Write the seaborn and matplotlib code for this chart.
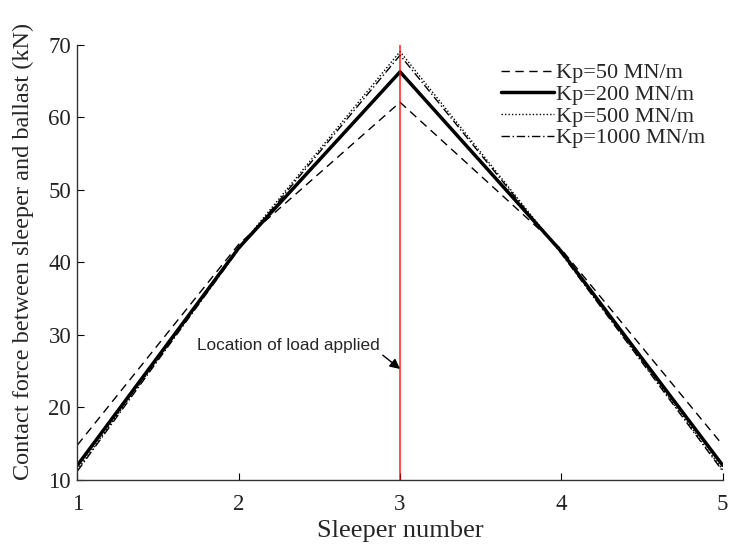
import matplotlib
matplotlib.use("Agg")
import matplotlib.pyplot as plt
import seaborn as sns
import pandas as pd
from matplotlib.lines import Line2D

sleepers = [1, 2, 3, 4, 5]
kp50 = [14.8, 42.5, 62.1, 41.8, 14.8]
kp200 = [12.0, 42.0, 66.3, 41.5, 12.0]
kp500 = [11.4, 42.0, 69.1, 41.3, 11.4]
kp1000 = [11.2, 41.8, 68.6, 41.2, 11.2]
labels = ["Kp=50 MN/m", "Kp=200 MN/m", "Kp=500 MN/m", "Kp=1000 MN/m"]
load_x = 3

rows = []
for lab, vals in zip(labels, [kp50, kp200, kp500, kp1000]):
    for s, v in zip(sleepers, vals):
        rows.append({"Sleeper number": s, "Force": v, "Case": lab})
df = pd.DataFrame(rows)

sns.set_style("white")
plt.rcParams["font.family"] = ["Liberation Serif", "DejaVu Serif"]

fig = plt.figure(figsize=(7.3, 5.49), dpi=100)
ax = fig.add_axes([0.106, 0.126, 0.884, 0.792])

dash_list = [(6, 4), "", (1, 1.5), (6, 2, 1, 2)]
dashes = {l: d for l, d in zip(labels, dash_list)}
palette = {l: "black" for l in labels}
sns.lineplot(data=df, x="Sleeper number", y="Force", hue="Case", style="Case",
             dashes=dashes, palette=palette, ax=ax, legend=False)
widths = [1.0, 2.5, 1.0, 1.0]
for line, w in zip(ax.lines, widths):
    line.set_linewidth(w)

ax.axvline(load_x, color="red", lw=1.2, alpha=0.8)

handles = []
for w, d in zip(widths, dash_list):
    h = Line2D([], [], color="black", lw=w, linestyle="-")
    if d != "":
        h.set_dashes(d)
    handles.append(h)
leg = ax.legend(handles, labels, loc="upper right", frameon=False, fontsize=16,
                handlelength=2.4, handletextpad=0.08, labelspacing=0.05,
                borderpad=0.3, bbox_to_anchor=(1.0, 1.0))

ax.annotate("Location of load applied", xy=(load_x, 25.3), xytext=(1.74, 28.6),
            fontsize=12.4, family="Liberation Sans", va="center", ha="left",
            arrowprops=dict(arrowstyle="-|>", color="black", lw=1, mutation_scale=15,
                            shrinkA=0, shrinkB=0, relpos=(1.0, 0.0)))

ax.set_xlim(1, 5)
ax.set_ylim(10, 70)
ax.set_xticks([1, 2, 3, 4, 5])
ax.set_yticks([10, 20, 30, 40, 50, 60, 70])
ax.tick_params(direction="in", length=5, labelsize=16.5, colors="black",
               left=True, bottom=True, labelcolor="#222222")
ax.tick_params(axis="x", pad=10)
ax.tick_params(axis="y", pad=4.5)
for sp in ["top", "right"]:
    ax.spines[sp].set_visible(False)
for sp in ["left", "bottom"]:
    ax.spines[sp].set_color("#333333")
    ax.spines[sp].set_linewidth(1.0)
ax.set_xlabel("Sleeper number", fontsize=19, labelpad=4)
ax.set_ylabel("Contact force between sleeper and ballast (kN)", fontsize=17.5)
ax.yaxis.set_label_coords(-0.067, 0.525)

fig.savefig("out.png", dpi=100)
